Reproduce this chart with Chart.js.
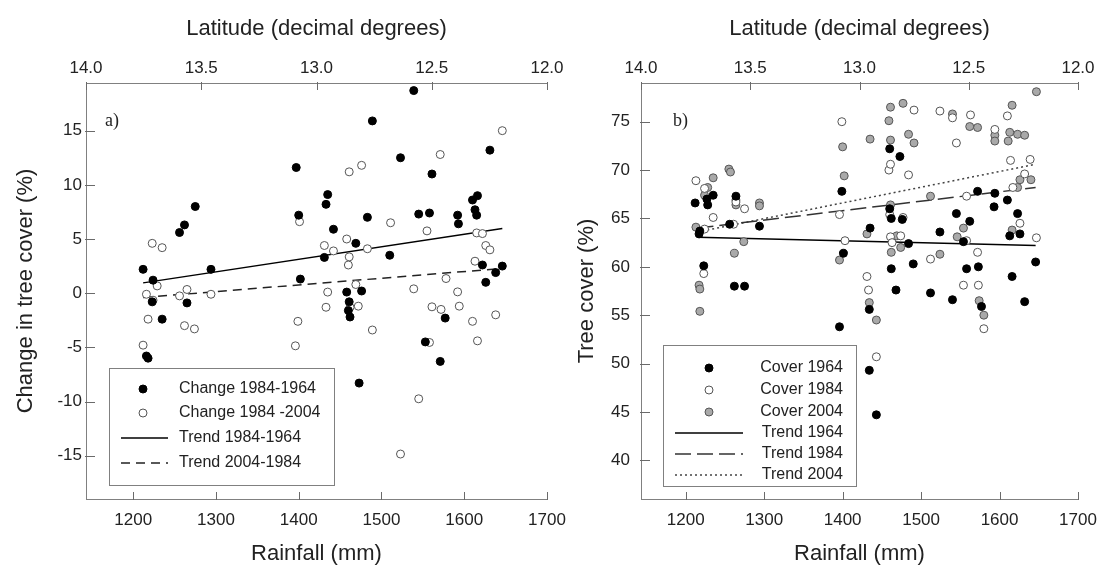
<!DOCTYPE html>
<html>
<head>
<meta charset="utf-8">
<script src="https://cdn.jsdelivr.net/npm/chart.js@4.4.0/dist/chart.umd.min.js"></script>
<style>
html, body { margin: 0; padding: 0; background: #fff; }
#wrap { position: relative; width: 1099px; height: 568px; overflow: hidden; background: #fff; }
#cA, #cB { position: absolute; top: 0; }
#cA { left: 0; }
#cB { left: 550px; }
</style>
</head>
<body>
<div id="wrap">
  <canvas id="cA" width="590" height="568"></canvas>
  <canvas id="cB" width="549" height="568"></canvas>
</div>
<script>
// ---- data ----
const rainTicks = [1200, 1300, 1400, 1500, 1600, 1700];
const latTicks = [14.0, 13.5, 13.0, 12.5, 12.0];
const changeTicks = [-15, -10, -5, 0, 5, 10, 15];
const coverTicks = [40, 45, 50, 55, 60, 65, 70, 75];

// panel a) change in tree cover
const rain8464 = [1212,1224,1223,1235,1216,1218,1256,1262,1275,1265,1294,1397,1400,1402,1433,1435,1431,1442,1458,1461,1460,1462,1469,1476,1473,1483,1489,1510,1523,1539,1545,1553,1558,1561,1571,1577,1592,1593,1610,1616,1613,1615,1622,1626,1631,1638,1646];
const chg8464 = [2.2,1.2,-0.8,-2.4,-5.8,-6.0,5.6,6.3,8.0,-0.9,2.2,11.6,7.2,1.3,8.2,9.1,3.3,5.9,0.1,-0.8,-1.6,-2.2,4.6,0.2,-8.3,7.0,15.9,3.5,12.5,18.7,7.3,-4.5,7.4,11.0,-6.3,-2.3,7.2,6.4,8.6,9.0,7.7,7.2,2.6,1.0,13.2,1.9,2.5];
const rain8404 = [1212,1216,1218,1223,1224,1229,1235,1256,1262,1265,1274,1294,1396,1399,1401,1431,1433,1435,1442,1458,1460,1461,1461,1462,1469,1472,1476,1483,1489,1511,1523,1539,1545,1555,1558,1561,1571,1572,1578,1592,1594,1610,1613,1615,1616,1622,1626,1631,1638,1646];
const chg8404 = [-4.8,-0.1,-2.4,4.6,-0.65,0.67,4.2,-0.25,-3.0,0.34,-3.3,-0.1,-4.86,-2.6,6.6,4.4,-1.3,0.1,3.9,5.0,2.6,3.35,11.2,-1.3,0.8,-1.2,11.8,4.1,-3.4,6.5,-14.85,0.4,-9.75,5.75,-4.55,-1.26,12.8,-1.5,1.35,0.12,-1.2,-2.6,2.95,5.56,-4.4,5.5,4.4,4.0,-2.0,15.0];
const trendRainA = [1212, 1646];
const trend8464 = [0.95, 5.97];
const trend0484 = [-0.4, 2.28];

// panel b) tree cover
const rain64 = [1212,1217,1218,1227,1228,1235,1223,1256,1262,1264,1275,1294,1396,1399,1401,1434,1434,1435,1443,1460,1460,1462,1462,1468,1473,1476,1484,1490,1512,1524,1540,1545,1554,1558,1562,1572,1573,1577,1593,1594,1610,1613,1616,1623,1626,1632,1646];
const cover64 = [66.6,63.4,63.7,67.0,66.4,67.4,60.1,64.4,58.0,67.3,58.0,64.2,53.8,67.8,61.4,55.6,49.3,64.0,44.7,72.2,66.0,65.0,59.8,57.6,71.4,64.9,62.4,60.3,57.3,63.6,56.6,65.5,62.6,59.8,64.7,67.8,60.0,55.9,66.2,67.6,66.9,63.2,59.0,65.5,63.4,56.4,60.5];
const rain84 = [1213,1224,1224,1223,1235,1261,1264,1275,1396,1399,1403,1431,1433,1443,1459,1460,1461,1461,1463,1474,1477,1484,1491,1512,1524,1540,1545,1554,1558,1558,1563,1572,1573,1580,1594,1610,1614,1617,1626,1632,1639,1647];
const cover84 = [68.9,68.1,63.9,59.3,65.1,64.4,66.7,66.0,65.4,75.0,62.7,59.0,57.6,50.7,70.0,65.4,70.6,63.1,62.5,63.2,65.1,69.5,76.2,60.8,76.1,75.4,72.8,58.1,62.7,67.3,75.7,61.5,58.1,53.6,74.2,75.6,71.0,68.2,64.5,69.6,71.1,63.0];
const rain04 = [1213,1217,1218,1218,1224,1228,1235,1255,1257,1262,1264,1264,1274,1294,1294,1396,1400,1402,1431,1434,1435,1443,1459,1461,1461,1461,1462,1469,1474,1477,1484,1491,1512,1524,1540,1546,1554,1562,1572,1574,1580,1594,1594,1611,1613,1616,1616,1623,1623,1626,1632,1640,1647];
const cover04 = [64.1,58.1,57.7,55.4,67.4,68.2,69.2,70.1,69.8,61.4,66.9,66.4,62.6,66.6,66.3,60.7,72.4,69.4,63.4,56.3,73.2,54.5,75.1,76.5,73.1,66.4,61.5,63.2,62.0,76.9,73.7,72.8,67.3,61.3,75.8,63.1,64.0,74.5,74.4,56.5,55.0,73.6,73.0,73.0,73.9,76.7,63.8,68.2,73.7,69.0,73.6,69.0,78.1];
const trendRainB = [1215, 1646];
const trend64 = [63.05, 62.2];
const trend84 = [64.0, 68.2];
const trend04 = [63.6, 70.6];

// ---- styling ----
const SANS = '"Liberation Sans", Arial, sans-serif';
const TEXT = '#222';
const AXIS = '#808080';
const TICK = '#6a6a6a';

function pts(xs, ys) { return xs.map((x, i) => ({ x: x, y: ys[i] })); }

function pointSet(label, xs, ys, fill, stroke) {
  return {
    label: label, data: pts(xs, ys), showLine: false,
    pointRadius: 4, pointHoverRadius: 4, pointBorderWidth: 1,
    pointBackgroundColor: fill, pointBorderColor: stroke
  };
}
function trendSet(label, xs, ys, dash, color) {
  return {
    label: label, type: 'line', data: pts(xs, ys), showLine: true,
    pointRadius: 0, borderColor: color, borderWidth: 1.5,
    borderDash: dash, fill: false, tension: 0
  };
}

// ticks drawn pointing into the plot, like the original
const inwardTicks = {
  id: 'inwardTicks',
  afterDraw(chart) {
    const { ctx, chartArea: a } = chart;
    ctx.save();
    ctx.strokeStyle = TICK;
    ctx.lineWidth = 1;
    ctx.beginPath();
    ['x', 'lat', 'y'].forEach(id => {
      const s = chart.scales[id];
      s.ticks.forEach(t => {
        const p = Math.round(s.getPixelForValue(t.value)) + 0.5;
        if (id === 'y') { ctx.moveTo(a.left - 1, p); ctx.lineTo(a.left + 9, p); }
        else if (id === 'x') { ctx.moveTo(p, a.bottom + 1); ctx.lineTo(p, a.bottom - 7); }
        else { ctx.moveTo(p, a.top - 1); ctx.lineTo(p, a.top + 7); }
      });
    });
    ctx.stroke();
    ctx.restore();
  }
};

// boxed legend inside the plot + panel letter
const boxLegend = {
  id: 'boxLegend',
  afterDraw(chart, args, o) {
    const ctx = chart.ctx;
    ctx.save();
    const [l, t, r, b] = o.box;
    ctx.fillStyle = '#fff';
    ctx.fillRect(l, t, r - l, b - t);
    ctx.strokeStyle = AXIS;
    ctx.lineWidth = 1;
    ctx.strokeRect(l + 0.5, t + 0.5, r - l, b - t);
    ctx.font = '16px ' + SANS;
    ctx.textBaseline = 'middle';
    ctx.textAlign = o.align;
    chart.data.datasets.forEach((ds, i) => {
      const y = o.rows[i];
      if (ds.showLine) {
        ctx.setLineDash(ds.borderDash || []);
        ctx.strokeStyle = ds.borderColor;
        ctx.lineWidth = ds.borderWidth;
        ctx.beginPath(); ctx.moveTo(o.line[0], y); ctx.lineTo(o.line[1], y); ctx.stroke();
        ctx.setLineDash([]);
      } else {
        ctx.beginPath(); ctx.arc(o.symX, y, ds.pointRadius, 0, Math.PI * 2);
        ctx.fillStyle = ds.pointBackgroundColor; ctx.fill();
        ctx.strokeStyle = ds.pointBorderColor; ctx.lineWidth = 1; ctx.stroke();
      }
      ctx.fillStyle = TEXT;
      ctx.fillText(ds.label, o.textX, y);
    });
    ctx.font = '18px "Liberation Serif", "Times New Roman", serif';
    ctx.textAlign = 'left';
    ctx.fillStyle = TEXT;
    ctx.fillText(o.panel, o.panelX, o.panelY);
    ctx.restore();
  }
};

function makeOptions(cfg) {
  const fixW = w => s => { s.width = w; s.paddingTop = 0; s.paddingBottom = 0; };
  const fixH = h => s => { s.height = h; s.paddingLeft = 0; s.paddingRight = 0; };
  const tickFont = { family: SANS, size: 17 };
  const titleFont = { family: SANS, size: 22 };
  return {
    responsive: false,
    animation: false,
    layout: { padding: { left: 0, top: 0, bottom: 0, right: cfg.padRight } },
    plugins: { legend: { display: false }, tooltip: { enabled: false }, boxLegend: cfg.legend },
    scales: {
      x: {
        type: 'linear', position: 'bottom', min: 1143, max: 1700,
        afterBuildTicks: s => { s.ticks = rainTicks.map(v => ({ value: v })); },
        afterFit: fixH(69),
        grid: { display: false, drawTicks: false },
        border: { display: true, color: AXIS, width: 1 },
        ticks: { font: tickFont, color: TEXT, padding: 11, maxRotation: 0, autoSkip: false,
                 callback: v => String(v) },
        title: { display: true, text: 'Rainfall (mm)', font: titleFont, color: TEXT, padding: { top: 0, bottom: 1 } }
      },
      lat: {
        type: 'linear', position: 'top', min: 12, max: 14, reverse: true,
        afterBuildTicks: s => { s.ticks = latTicks.map(v => ({ value: v })); },
        afterFit: fixH(83),
        grid: { display: false, drawTicks: false },
        border: { display: true, color: AXIS, width: 1 },
        ticks: { font: tickFont, color: TEXT, padding: 4, maxRotation: 0, autoSkip: false,
                 callback: v => v.toFixed(1) },
        title: { display: true, text: 'Latitude (decimal degrees)', font: titleFont, color: TEXT, padding: { top: 16, bottom: 0 } }
      },
      y: {
        type: 'linear', position: 'left', min: cfg.yMin, max: cfg.yMax,
        afterBuildTicks: s => { s.ticks = cfg.yTicks.map(v => ({ value: v })); },
        afterFit: fixW(cfg.yWidth),
        grid: { display: false, drawTicks: false },
        border: { display: true, color: AXIS, width: 1 },
        ticks: { font: tickFont, color: TEXT, padding: cfg.yPad, autoSkip: false,
                 callback: v => String(v) },
        title: { display: true, text: cfg.yTitle, font: titleFont, color: TEXT, padding: { top: cfg.yTitlePad, bottom: 0 } }
      }
    }
  };
}

new Chart(document.getElementById('cA'), {
  type: 'scatter',
  data: {
    datasets: [
      pointSet('Change 1984-1964', rain8464, chg8464, '#000', '#000'),
      pointSet('Change 1984 -2004', rain8404, chg8404, '#fff', '#555'),
      trendSet('Trend 1984-1964', trendRainA, trend8464, [], '#000'),
      trendSet('Trend 2004-1984', trendRainA, trend0484, [9, 6], '#222')
    ]
  },
  options: makeOptions({
    padRight: 43, yMin: -19, yMax: 19.4, yTicks: changeTicks, yWidth: 86, yPad: 4,
    yTitle: 'Change in tree cover (%)', yTitlePad: 13,
    legend: { box: [109, 368, 334, 485], rows: [389, 413, 438, 463], symX: 143, line: [121, 168],
              textX: 179, align: 'left', panel: 'a)', panelX: 105, panelY: 121 }
  }),
  plugins: [inwardTicks, boxLegend]
});

new Chart(document.getElementById('cB'), {
  type: 'scatter',
  data: {
    datasets: [
      pointSet('Cover 1964', rain64, cover64, '#000', '#000'),
      pointSet('Cover 1984', rain84, cover84, '#fff', '#555'),
      pointSet('Cover 2004', rain04, cover04, '#a9a9a9', '#555'),
      trendSet('Trend 1964', trendRainB, trend64, [], '#000'),
      trendSet('Trend 1984', trendRainB, trend84, [16, 6], '#333'),
      trendSet('Trend 2004', trendRainB, trend04, [2, 3], '#444')
    ]
  },
  options: makeOptions({
    padRight: 21, yMin: 36, yMax: 79, yTicks: coverTicks, yWidth: 91, yPad: 11,
    yTitle: 'Tree cover (%)', yTitlePad: 24,
    legend: { box: [113, 345, 306, 486], rows: [368, 390, 412, 433, 454, 475], symX: 159, line: [125, 193],
              textX: 293, align: 'right', panel: 'b)', panelX: 123, panelY: 121 }
  }),
  plugins: [inwardTicks, boxLegend]
});
</script>
</body>
</html>
